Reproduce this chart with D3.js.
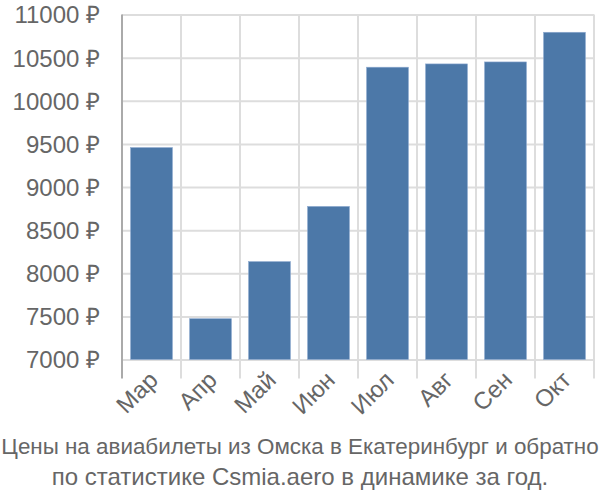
<!DOCTYPE html>
<html><head><meta charset="utf-8">
<script src="https://cdn.jsdelivr.net/npm/d3@7"></script>
<style>body{margin:0;background:#fff;font-family:"Liberation Sans",Arial,sans-serif;}</style>
</head><body><svg id="c" width="600" height="500"></svg>
<script>
const months = ["Мар","Апр","Май","Июн","Июл","Авг","Сен","Окт"];
const prices = [9457, 7473, 8135, 8775, 10389, 10427, 10450, 10794];
const yTicks = [7000,7500,8000,8500,9000,9500,10000,10500,11000];
const titleLines = ["Цены на авиабилеты из Омска в Екатеринбург и обратно","по статистике Csmia.aero в динамике за год."];

const svg = d3.select("#c");
const pL=122, pR=594, pT=14.5, pB=359.5;
const x = d3.scaleBand().domain(months).range([pL,pR]).paddingInner(0.29).paddingOuter(0.145);
const y = d3.scaleLinear().domain([7000,11000]).range([pB,pT]);
const grid="#dddddd", txt="#666666";

// horizontal grid + y ticks
const gy = svg.append("g").attr("transform",`translate(${pL},0)`)
  .call(d3.axisLeft(y).tickValues(yTicks).tickSize(20).tickPadding(2).tickFormat(d=>d+" ₽"));
gy.select(".domain").remove();
gy.selectAll(".tick line").attr("stroke",grid).attr("stroke-width",2).attr("x2",pR-pL);
gy.selectAll(".tick text").attr("fill",txt).attr("dy","0.35em").style("font-size","24px").style("font-family","Liberation Sans, Arial, sans-serif");

// vertical grid at band boundaries
const bounds = months.map(m=>x(m)-x.step()*x.paddingInner()/2);
bounds.push(pR);
bounds[0]=pL;
svg.append("g").selectAll("line").data(bounds).join("line")
  .attr("x1",d=>d).attr("x2",d=>d).attr("y1",pT).attr("y2",pB+19)
  .attr("stroke",(d,i)=>i===0?"#aaaaaa":grid).attr("stroke-width",2);

// bars
svg.append("g").selectAll("rect").data(months).join("rect")
  .attr("x",d=>x(d)).attr("width",x.bandwidth())
  .attr("y",(d,i)=>y(prices[i])).attr("height",(d,i)=>pB-y(prices[i]))
  .attr("fill","#4c78a8").attr("stroke","#8eaad0").attr("stroke-width",0.6);

// x labels
svg.append("g").selectAll("text").data(months).join("text")
  .attr("transform",d=>`translate(${x(d)+x.bandwidth()/2+8},${pB+22}) rotate(-45)`)
  .attr("text-anchor","end").attr("fill",txt).style("font-size","24px").text(d=>d);

// title
svg.append("g").selectAll("text").data(titleLines).join("text")
  .attr("x",300).attr("y",(d,i)=>454+i*31).attr("text-anchor","middle")
  .attr("fill",txt).style("font-size",(d,i)=>i===0?"22.4px":"24px")
  .text(d=>d);
</script></body></html>
